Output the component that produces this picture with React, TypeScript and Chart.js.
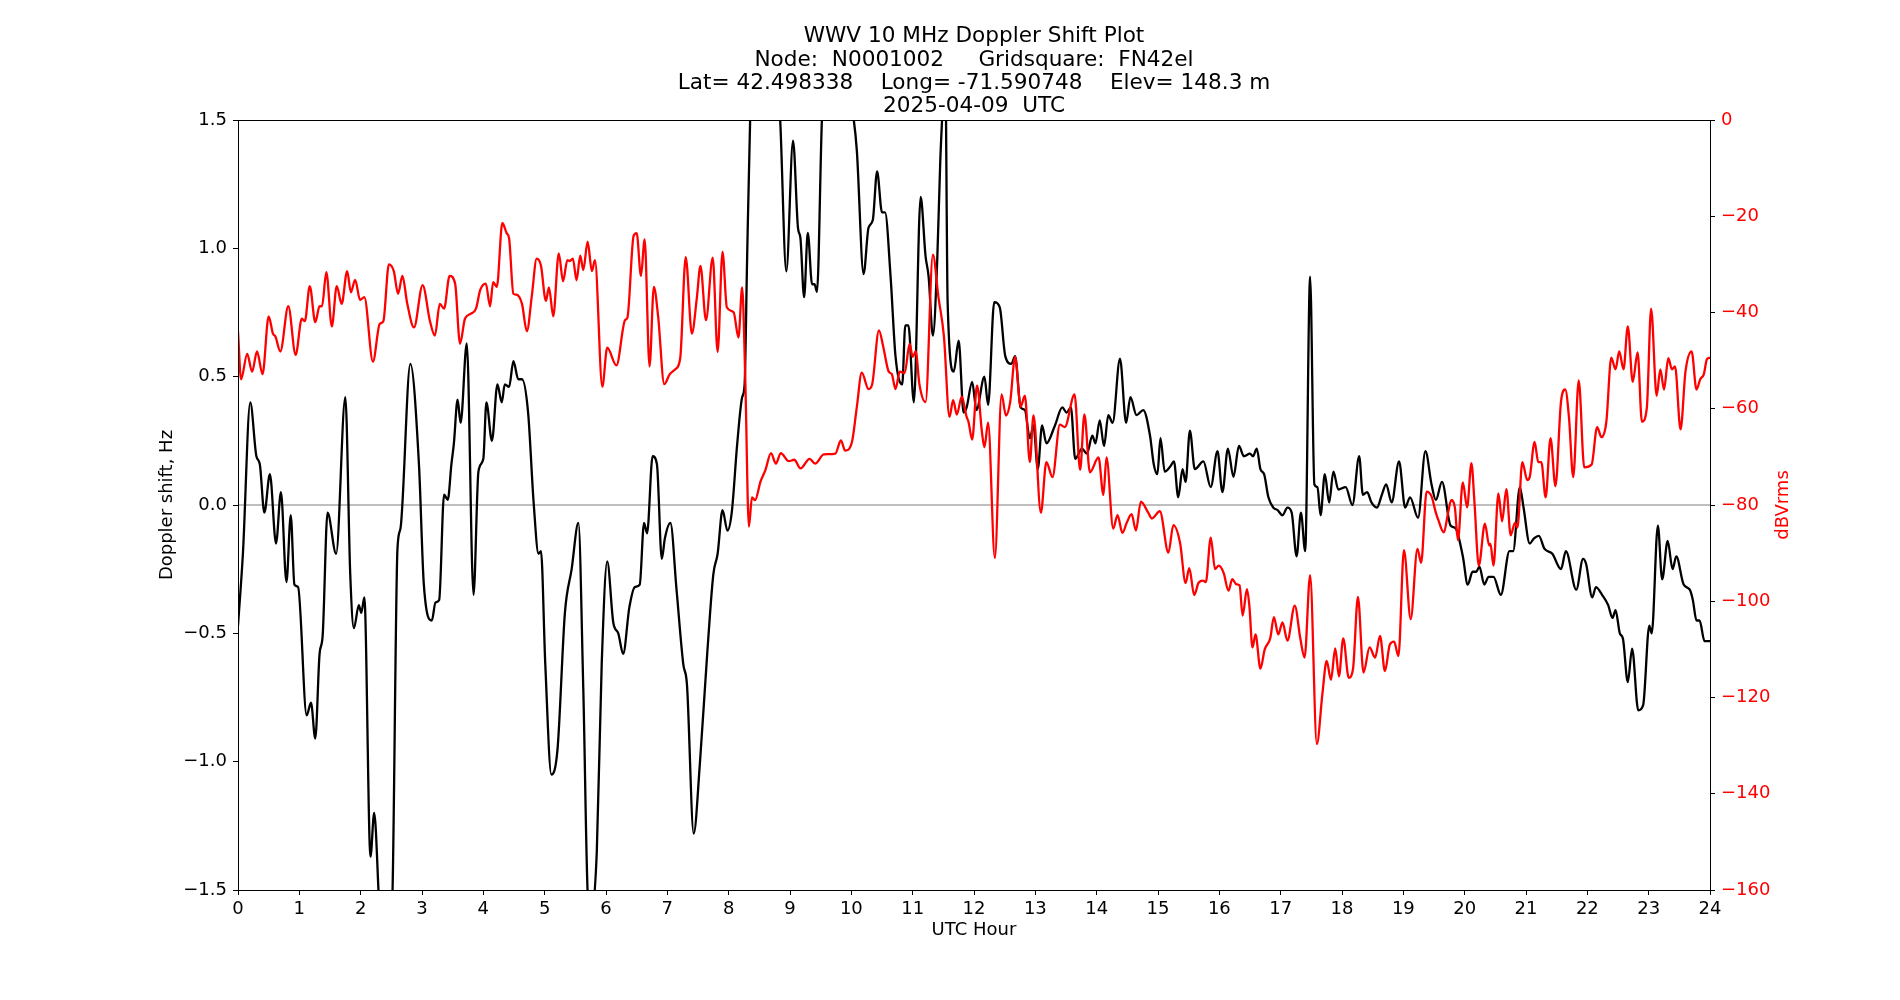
import React, { useEffect, useRef } from "react";
import { Chart, registerables } from "chart.js";
Chart.register(...registerables);

const FONT = '"DejaVu Sans", "Liberation Sans", sans-serif';

const titleLines = [
  "WWV 10 MHz Doppler Shift Plot",
  "Node:  N0001002     Gridsquare:  FN42el",
  "Lat= 42.498338    Long= -71.590748    Elev= 148.3 m",
  "2025-04-09  UTC",
];
const xAxisLabel = "UTC Hour";
const leftAxisLabel = "Doppler shift, Hz";
const rightAxisLabel = "dBVrms";

const zeroLineHours = [0, 24];
const zeroLineHz = [0, 0];

const dopplerHours = [
  0.0, 0.08, 0.2, 0.3, 0.355, 0.43, 0.52, 0.62, 0.7, 0.79, 0.86, 0.92, 0.98, 1.12, 1.19, 1.26, 1.33, 1.38, 1.46, 1.6,
  1.75, 1.83, 1.89, 1.97, 2.01, 2.06, 2.16, 2.22, 2.3, 2.4, 2.52, 2.6, 2.65, 2.81, 2.95, 3.03, 3.16, 3.22, 3.28, 3.36,
  3.42, 3.48, 3.52, 3.58, 3.63, 3.73, 3.84, 3.92, 4.0, 4.05, 4.14, 4.23, 4.3, 4.35, 4.42, 4.49, 4.57, 4.63, 4.73, 4.82,
  4.9, 4.94, 5.01, 5.11, 5.21, 5.33, 5.44, 5.55, 5.63, 5.71, 5.77, 5.85, 5.93, 6.02, 6.12, 6.2, 6.28, 6.38, 6.47, 6.55,
  6.62, 6.67, 6.76, 6.83, 6.91, 6.96, 7.05, 7.15, 7.26, 7.32, 7.43, 7.53, 7.65, 7.75, 7.82, 7.9, 7.98, 8.05, 8.14, 8.22,
  8.26, 8.3, 8.35, 8.5, 8.7, 8.84, 8.94, 9.05, 9.13, 9.17, 9.23, 9.29, 9.36, 9.4, 9.44, 9.52, 9.62, 9.75, 9.85, 9.92,
  9.97, 10.04, 10.09, 10.2, 10.28, 10.35, 10.42, 10.5, 10.55, 10.64, 10.72, 10.83, 10.88, 10.93, 11.02, 11.13, 11.21,
  11.26, 11.33, 11.4, 11.45, 11.5, 11.53, 11.57, 11.67, 11.75, 11.83, 11.88, 11.97, 12.04, 12.17, 12.23, 12.33, 12.42,
  12.51, 12.61, 12.67, 12.76, 12.83, 12.91, 12.97, 13.04, 13.11, 13.18, 13.32, 13.44, 13.51, 13.58, 13.65, 13.76, 13.84,
  13.93, 13.98, 14.05, 14.12, 14.19, 14.26, 14.38, 14.48, 14.55, 14.65, 14.76, 14.87, 14.93, 14.99, 15.04, 15.11, 15.2,
  15.26, 15.33, 15.4, 15.45, 15.52, 15.6, 15.74, 15.86, 15.97, 16.05, 16.14, 16.23, 16.32, 16.4, 16.5, 16.55, 16.61,
  16.67, 16.73, 16.8, 16.88, 16.95, 17.03, 17.11, 17.18, 17.26, 17.33, 17.4, 17.48, 17.55, 17.6, 17.65, 17.72, 17.79,
  17.86, 17.94, 18.06, 18.17, 18.28, 18.34, 18.41, 18.48, 18.57, 18.65, 18.72, 18.81, 18.93, 19.03, 19.11, 19.24, 19.36,
  19.46, 19.53, 19.63, 19.77, 19.85, 19.97, 20.05, 20.13, 20.19, 20.24, 20.32, 20.39, 20.47, 20.59, 20.73, 20.79, 20.9,
  20.96, 21.06, 21.13, 21.21, 21.3, 21.43, 21.57, 21.65, 21.82, 21.93, 21.98, 22.08, 22.14, 22.24, 22.34, 22.41, 22.46,
  22.53, 22.58, 22.66, 22.73, 22.83, 22.91, 23.01, 23.05, 23.15, 23.22, 23.31, 23.39, 23.45, 23.57, 23.67, 23.72, 23.78,
  23.83, 23.91, 24.0,
];
const dopplerHz = [
  -0.47, -0.19, 0.4, 0.19, 0.16, -0.03, 0.12, -0.15, 0.05, -0.3, -0.04, -0.31, -0.32, -0.82, -0.77, -0.91, -0.58, -0.51, -0.03, -0.19,
  0.42, -0.27, -0.48, -0.39, -0.42, -0.36, -1.37, -1.2, -1.55, -2.0, -1.5, -0.17, -0.09, 0.55, 0.16, -0.31, -0.45, -0.38, -0.37, 0.04,
  0.02, 0.16, 0.24, 0.41, 0.32, 0.63, -0.35, 0.13, 0.18, 0.4, 0.25, 0.47, 0.4, 0.47, 0.46, 0.56, 0.49, 0.49, 0.36, 0.01,
  -0.19, -0.18, -0.62, -1.05, -0.95, -0.42, -0.25, -0.07, -0.72, -1.55, -1.58, -1.35, -0.62, -0.22, -0.46, -0.5, -0.58, -0.4, -0.32, -0.31,
  -0.07, -0.11, 0.19, 0.16, -0.21, -0.13, -0.07, -0.33, -0.62, -0.7, -1.28, -1.01, -0.58, -0.27, -0.19, -0.02, -0.1, -0.03, 0.24, 0.42,
  0.47, 0.95, 1.5, 2.2, 2.0, 1.5, 0.91, 1.42, 1.08, 1.04, 0.81, 1.06, 0.86, 0.86, 0.83, 1.5, 1.9, 1.52, 1.58, 1.52,
  1.58, 1.5, 1.38, 0.9, 1.08, 1.11, 1.3, 1.14, 1.14, 0.89, 0.58, 0.47, 0.7, 0.7, 0.4, 1.2, 0.97,
  0.89, 0.66, 0.95, 1.34, 1.6, 1.75, 0.79, 0.52, 0.64, 0.36, 0.38, 0.48, 0.37, 0.5, 0.39, 0.79, 0.77,
  0.58, 0.55, 0.58, 0.38, 0.37, 0.26, 0.31, 0.14, 0.31, 0.24, 0.31, 0.38, 0.36, 0.38, 0.18, 0.22, 0.2,
  0.27, 0.24, 0.33, 0.23, 0.35, 0.32, 0.57, 0.32, 0.42, 0.35, 0.37, 0.27, 0.16, 0.12, 0.26, 0.13, 0.15,
  0.17, 0.03, 0.14, 0.09, 0.29, 0.14, 0.17, 0.07, 0.21, 0.05, 0.22, 0.11, 0.23, 0.19, 0.2, 0.19, 0.22,
  0.14, 0.12, 0.03, -0.01, -0.02, -0.04, -0.01, -0.03, -0.2, -0.03, -0.18, 0.89, 0.08, 0.07, -0.04, 0.12, 0.01,
  0.13, 0.06, 0.07, 0.0, 0.19, 0.04, 0.05, 0.01, -0.01, 0.04, 0.08, 0.01, 0.17, -0.01, 0.03, -0.05, 0.21,
  0.08, 0.02, 0.09, -0.08, -0.09, -0.2, -0.31, -0.26, -0.26, -0.24, -0.31, -0.28, -0.28, -0.35, -0.18, -0.18, 0.07,
  -0.01, -0.15, -0.13, -0.12, -0.17, -0.19, -0.25, -0.18, -0.33, -0.21, -0.23, -0.36, -0.32, -0.35, -0.39, -0.44, -0.41,
  -0.5, -0.52, -0.69, -0.56, -0.8, -0.78, -0.47, -0.5, -0.08, -0.29, -0.14, -0.25, -0.2, -0.31, -0.33, -0.37, -0.45,
  -0.45, -0.53, -0.53,
];

const powerHours = [
  0.0, 0.05, 0.15, 0.23, 0.31, 0.4, 0.5, 0.57, 0.61, 0.69, 0.82, 0.94, 1.04, 1.09, 1.17, 1.26, 1.33, 1.37, 1.44, 1.53,
  1.61, 1.69, 1.78, 1.84, 1.91, 1.99, 2.06, 2.2, 2.31, 2.37, 2.46, 2.54, 2.61, 2.68, 2.76, 2.87, 3.01, 3.13, 3.21, 3.29,
  3.36, 3.45, 3.54, 3.62, 3.7, 3.79, 3.88, 3.95, 4.04, 4.11, 4.16, 4.22, 4.31, 4.38, 4.42, 4.49, 4.54, 4.63, 4.71, 4.79,
  4.87, 4.94, 5.02, 5.07, 5.14, 5.23, 5.3, 5.37, 5.41, 5.46, 5.52, 5.58, 5.63, 5.7, 5.77, 5.82, 5.94, 6.02, 6.17, 6.31,
  6.35, 6.45, 6.5, 6.57, 6.63, 6.71, 6.78, 6.85, 6.95, 7.04, 7.13, 7.21, 7.3, 7.4, 7.48, 7.54, 7.63, 7.74, 7.82, 7.9,
  7.97, 8.08, 8.16, 8.22, 8.27, 8.33, 8.38, 8.43, 8.52, 8.6, 8.69, 8.77, 8.85, 8.98, 9.07, 9.17, 9.32, 9.41, 9.55, 9.74,
  9.83, 9.9, 10.01, 10.09, 10.17, 10.28, 10.34, 10.45, 10.52, 10.61, 10.66, 10.72, 10.79, 10.87, 10.95, 11.0, 11.05,
  11.11, 11.21, 11.33, 11.42, 11.51, 11.6, 11.66, 11.72, 11.8, 11.88, 11.91, 11.97, 12.05, 12.13, 12.17, 12.23, 12.34,
  12.45, 12.52, 12.59, 12.67, 12.76, 12.83, 12.91, 12.97, 13.09, 13.18, 13.28, 13.4, 13.48, 13.64, 13.73, 13.8, 13.89,
  14.03, 14.11, 14.16, 14.27, 14.34, 14.42, 14.49, 14.57, 14.64, 14.72, 14.84, 14.9, 15.03, 15.17, 15.25, 15.36, 15.45,
  15.51, 15.59, 15.66, 15.73, 15.78, 15.86, 15.93, 15.99, 16.07, 16.15, 16.21, 16.28, 16.33, 16.38, 16.45, 16.49, 16.54,
  16.59, 16.67, 16.74, 16.83, 16.89, 16.96, 17.03, 17.11, 17.23, 17.32, 17.39, 17.48, 17.59, 17.68, 17.75, 17.82, 17.89,
  17.95, 18.02, 18.11, 18.18, 18.26, 18.35, 18.45, 18.54, 18.62, 18.7, 18.78, 18.85, 18.92, 19.01, 19.12, 19.23, 19.29,
  19.38, 19.46, 19.53, 19.57, 19.66, 19.73, 19.78, 19.84, 19.89, 19.97, 20.04, 20.11, 20.16, 20.23, 20.33, 20.4, 20.42,
  20.47, 20.55, 20.61, 20.68, 20.75, 20.82, 20.86, 20.94, 21.02, 21.06, 21.14, 21.2, 21.25, 21.32, 21.4, 21.48, 21.57,
  21.64, 21.7, 21.77, 21.86, 21.95, 22.07, 22.16, 22.23, 22.31, 22.39, 22.46, 22.52, 22.59, 22.66, 22.74, 22.82, 22.89,
  22.97, 23.04, 23.13, 23.19, 23.25, 23.32, 23.38, 23.43, 23.52, 23.6, 23.7, 23.78, 23.84, 23.9, 23.95, 24.0,
];
const powerDb = [
  -43.9, -53.9, -48.6, -52.3, -48.1, -52.8, -40.8, -44.4, -45.0, -48.1, -38.7, -48.8, -41.3, -41.8, -34.5, -42.0, -38.7, -38.7, -31.6, -42.9,
  -34.5, -38.2, -31.4, -35.8, -33.2, -37.4, -36.8, -50.2, -42.4, -41.8, -30.0, -31.4, -36.1, -32.4, -38.2, -43.1, -34.3, -41.8, -44.8, -38.2,
  -39.2, -32.4, -34.0, -46.5, -41.3, -40.3, -39.2, -35.3, -34.0, -38.7, -33.7, -34.7, -21.4, -23.5, -24.6, -36.1, -36.3, -38.2, -43.9, -36.6,
  -28.8, -30.3, -37.6, -34.8, -40.8, -27.7, -33.5, -29.1, -29.3, -28.8, -33.3, -28.2, -31.2, -25.3, -31.4, -29.1, -55.4, -47.3, -51.0, -41.6,
  -41.0, -24.1, -23.5, -32.4, -24.8, -51.2, -34.7, -40.8, -54.9, -52.8, -51.8, -49.5, -28.5, -44.4, -37.1, -30.3, -41.6, -28.6, -48.2, -27.4,
  -38.9, -39.9, -45.2, -34.8, -53.3, -84.5, -78.4, -79.0, -75.1, -72.7, -69.2, -71.4, -69.2, -70.9, -70.6, -72.4, -70.4, -71.4, -69.5, -69.3,
  -66.6, -68.7, -66.9, -59.6, -52.5, -55.9, -54.9, -43.7, -47.1, -52.3, -52.8, -55.9, -52.3, -52.6, -46.5, -49.2, -48.1,
  -54.9, -58.6, -28.0, -36.8, -45.0, -61.7, -58.2, -61.2, -57.5, -61.7, -62.7, -66.4, -55.2, -64.9, -68.0, -62.9, -91.0,
  -57.0, -61.4, -58.6, -49.2, -59.6, -57.3, -71.1, -61.4, -81.6, -71.1, -74.2, -63.3, -63.8, -57.0, -72.7, -61.2, -73.2,
  -70.1, -77.9, -70.1, -84.9, -82.1, -85.8, -83.7, -81.9, -85.3, -79.3, -81.6, -82.8, -81.3, -89.9, -84.2, -87.9, -96.2,
  -93.1, -98.7, -96.2, -95.7, -96.0, -86.8, -93.3, -92.6, -94.1, -97.8, -95.4, -96.5, -96.7, -103.0, -97.5, -101.0, -109.6,
  -106.9, -114.0, -110.0, -107.7, -103.3, -106.9, -104.4, -108.2, -100.9, -107.7, -111.7, -94.6, -129.7, -119.3, -112.4, -116.3, -109.8,
  -115.6, -107.7, -115.9, -114.0, -99.1, -114.8, -109.6, -111.7, -107.2, -114.5, -109.0, -108.4, -111.4, -89.4, -103.7, -89.1, -92.0,
  -77.2, -78.2, -81.6, -83.1, -85.7, -81.6, -79.0, -80.5, -87.3, -75.3, -80.5, -71.3, -79.5, -92.6, -83.9, -88.4, -88.1,
  -92.6, -77.6, -83.4, -76.7, -86.3, -83.7, -84.7, -71.1, -74.8, -74.2, -66.9, -71.1, -71.1, -78.4, -66.1, -76.1, -58.6,
  -56.0, -61.7, -74.2, -54.1, -72.2, -71.6, -63.8, -65.9, -62.7, -49.4, -51.8, -48.1, -51.8, -42.9, -54.4, -48.3, -62.7,
  -59.8, -39.2, -57.3, -51.8, -56.0, -49.5, -51.8, -51.2, -64.3, -52.3, -48.1, -56.0, -53.9, -52.8, -49.7, -49.4,
];

const toPoints = (xs: number[], ys: number[]) => xs.map((x, i) => ({ x, y: ys[i] }));
const minus = (s: string) => s.replace("-", "\u2212");

const TICK_SIZE = 18;
const TITLE_SIZE = 21.6;

const decorPlugin = {
  id: "decor",
  afterDraw(chart: any) {
    const { ctx, chartArea } = chart;
    ctx.save();
    ctx.strokeStyle = "#000";
    ctx.lineWidth = 1;
    ctx.strokeRect(chartArea.left + 0.5, chartArea.top + 0.5, chartArea.right - chartArea.left, chartArea.bottom - chartArea.top);
    const cx = (chartArea.left + chartArea.right) / 2;
    ctx.fillStyle = "#000";
    ctx.font = `${TITLE_SIZE}px ${FONT}`;
    ctx.textAlign = "center";
    ctx.textBaseline = "middle";
    titleLines.forEach((line, i) => ctx.fillText(line, cx, 36.7 + i * 23.2));
    ctx.translate(1783, (chartArea.top + chartArea.bottom) / 2);
    ctx.rotate(-Math.PI / 2);
    ctx.fillStyle = "#ff0000";
    ctx.font = `${TICK_SIZE}px ${FONT}`;
    ctx.fillText(rightAxisLabel, 0, 0);
    ctx.restore();
  },
};

export default function App() {
  const ref = useRef<HTMLCanvasElement>(null);
  useEffect(() => {
    document.body.style.margin = "0";
    Chart.defaults.font.family = FONT;
    Chart.defaults.font.size = TICK_SIZE;
    const chart = new Chart(ref.current as HTMLCanvasElement, {
      type: "line",
      data: {
        datasets: [
          {
            label: "dBVrms",
            data: toPoints(powerHours, powerDb),
            yAxisID: "y2",
            borderColor: "#ff0000",
            borderWidth: 2.3,
            pointRadius: 0,
            cubicInterpolationMode: "monotone",
          },
          {
            label: "Doppler",
            data: toPoints(dopplerHours, dopplerHz),
            yAxisID: "y",
            borderColor: "#000000",
            borderWidth: 2.3,
            pointRadius: 0,
            cubicInterpolationMode: "monotone",
          },
          {
            label: "zero",
            data: toPoints(zeroLineHours, zeroLineHz),
            yAxisID: "y",
            borderColor: "#808080",
            borderWidth: 1.2,
            pointRadius: 0,
          },
        ],
      } as any,
      options: {
        animation: false,
        responsive: false,
        maintainAspectRatio: false,
        devicePixelRatio: 1,
        layout: { padding: { top: 120, left: 0, right: 0, bottom: 0 } },
        plugins: { legend: { display: false }, tooltip: { enabled: false }, title: { display: false } },
        scales: {
          x: {
            type: "linear",
            position: "bottom",
            min: 0,
            max: 24,
            ticks: { stepSize: 1, autoSkip: false, maxRotation: 0, color: "#000", padding: 4, font: { size: TICK_SIZE } },
            grid: { drawOnChartArea: false, drawTicks: true, tickLength: 5, color: "#000" },
            border: { display: true, color: "#000", width: 1 },
            title: { display: true, text: xAxisLabel, color: "#000", font: { size: TICK_SIZE }, padding: { top: 0, bottom: 58.6 } },
            afterFit: (s: any) => { s.height = 110; },
          },
          y: {
            type: "linear",
            position: "left",
            min: -1.5,
            max: 1.5,
            ticks: { stepSize: 0.5, color: "#000", padding: 6, font: { size: TICK_SIZE }, callback: (v: any) => minus(Number(v).toFixed(1)) },
            grid: { drawOnChartArea: false, drawTicks: true, tickLength: 5, color: "#000" },
            border: { display: true, color: "#000", width: 1 },
            title: { display: true, text: leftAxisLabel, color: "#000", font: { size: TICK_SIZE }, padding: { top: 156.2, bottom: 0 } },
            afterFit: (s: any) => { s.width = 238; },
          },
          y2: {
            type: "linear",
            position: "right",
            min: -160,
            max: 0,
            ticks: { stepSize: 20, color: "#ff0000", padding: 6, font: { size: TICK_SIZE }, callback: (v: any) => minus(String(v)) },
            grid: { drawOnChartArea: false, drawTicks: true, tickLength: 5, color: "#000" },
            border: { display: true, color: "#000", width: 1 },
            afterFit: (s: any) => { s.width = 190; },
          },
        },
      } as any,
      plugins: [decorPlugin],
    });
    return () => chart.destroy();
  }, []);
  return (
    <div style={{ position: "absolute", left: 0, top: 0, width: 1900, height: 1000, background: "#fff" }}>
      <canvas ref={ref} width={1900} height={1000} style={{ width: 1900, height: 1000, display: "block" }} />
    </div>
  );
}
